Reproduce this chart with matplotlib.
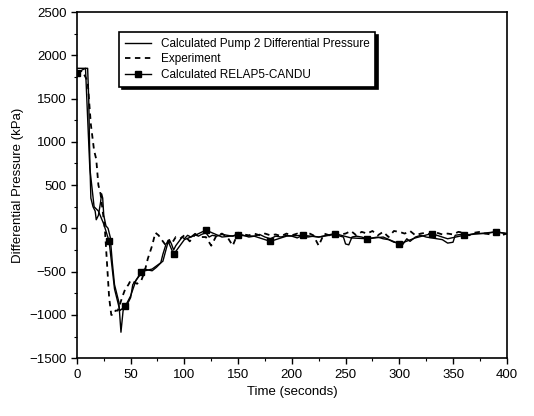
import matplotlib.pyplot as plt
import numpy as np

plt.rcParams['font.family'] = ['Liberation Sans', 'DejaVu Sans']

# Calculated Pump 2 differential pressure (solid line)
calc_t = [0, 10, 11, 12, 13, 15, 17, 18, 20, 22, 23, 24, 25, 27, 29, 31, 33, 35, 37, 39,
          41, 43, 45, 48, 50, 52, 55, 58, 60, 63, 66, 70, 74, 78, 80, 83, 86, 88, 90, 92,
          95, 98, 100, 103, 106, 110, 113, 116, 120, 123, 126, 130, 135, 140, 145, 150,
          155, 160, 165, 170, 175, 180, 185, 190, 195, 200, 205, 210, 215, 220, 225, 230,
          235, 240, 245, 248, 250, 253, 256, 260, 265, 270, 275, 280, 285, 290, 295, 300,
          303, 307, 310, 315, 320, 325, 330, 335, 340, 345, 350, 352, 357, 362, 370, 380,
          390, 395, 400]
calc_p = [1850, 1850, 1500, 800, 350, 250, 200, 100, 150, 300, 400, 350, 150, 30, 0, -100,
          -400, -650, -750, -850, -1200, -950, -900, -850, -800, -650, -600, -550, -500,
          -470, -480, -490, -450, -400, -300, -180, -130, -180, -250, -200, -150, -100,
          -120, -80, -100, -60, -90, -70, -50, -100, -80, -90, -70, -80, -90, -60, -80,
          -100, -90, -70, -100, -120, -90, -100, -80, -90, -110, -80, -100, -90, -100,
          -90, -80, -70, -90, -100, -180, -190, -100, -90, -100, -120, -110, -100, -120,
          -130, -160, -170, -190, -120, -150, -100, -80, -100, -110, -120, -130, -170,
          -160, -80, -70, -80, -60, -60, -40, -50, -60]

# Experiment (dashed line)
exp_t = [0, 5, 10, 13, 16, 18, 20, 22, 24, 26, 28, 30, 32, 34, 36, 38, 40, 42, 45, 48,
         50, 53, 56, 60, 63, 66, 70, 73, 76, 80, 83, 85, 88, 92, 96, 100, 105, 110, 115,
         120, 125, 130, 135, 140, 145, 150, 155, 160, 165, 170, 175, 180, 185, 190, 195,
         200, 205, 210, 215, 220, 225, 230, 235, 240, 245, 250, 255, 260, 265, 270, 275,
         280, 285, 290, 295, 300, 305, 310, 315, 320, 325, 330, 335, 340, 345, 350, 355,
         360, 365, 370, 375, 380, 385, 390, 395, 400]
exp_p = [1800, 1820, 1700, 1200, 900, 800, 500, 400, 200, 0, -400, -800, -1000, -1000,
         -950, -950, -880, -800, -700, -650, -600, -620, -640, -600, -500, -350, -200,
         -50, -80, -150, -200, -140, -180, -100, -120, -80, -150, -70, -100, -100, -200,
         -80, -60, -100, -200, -50, -70, -80, -60, -80, -60, -80, -70, -90, -60, -80,
         -60, -100, -50, -80, -200, -60, -80, -50, -70, -60, -30, -80, -40, -60, -30,
         -80, -40, -100, -30, -40, -60, -30, -80, -60, -50, -80, -50, -70, -60, -70, -40,
         -50, -80, -50, -40, -60, -70, -50, -80, -60]

# Calculated RELAP5-CANDU (solid line with square markers)
relap_t = [0, 8, 12, 16, 20, 25, 30, 35, 40, 45, 50, 55, 60, 70, 80, 85, 90, 100, 110,
           120, 135, 150, 165, 180, 195, 210, 225, 240, 255, 270, 285, 300, 315, 330,
           345, 360, 375, 390, 400]
relap_p = [1800, 1850, 700, 250, 200, 50, -150, -700, -950, -900, -780, -600, -500, -470,
           -380, -150, -300, -130, -80, -20, -100, -80, -90, -150, -90, -80, -100, -60,
           -110, -120, -100, -180, -110, -60, -120, -80, -60, -40, -60]
relap_marks = [0, 6, 9, 12, 16, 19, 21, 23, 25, 27, 29, 31, 33, 35, 37]

fig = plt.figure(figsize=(5.34, 4.16), dpi=100)
ax = fig.add_axes([0.144, 0.139, 0.805, 0.832])

ax.plot(calc_t, calc_p, color='black', lw=1.0, label='Calculated Pump 2 Differential Pressure')
ax.plot(exp_t, exp_p, color='black', lw=1.3, ls=(0, (3, 2.5)), label='Experiment')
ax.plot(relap_t, relap_p, color='black', lw=1.0, marker='s', ms=5,
        markevery=relap_marks, label='Calculated RELAP5-CANDU')

ax.set_xlim(0, 400)
ax.set_ylim(-1500, 2500)
ax.set_xticks(np.arange(0, 401, 50))
ax.set_yticks(np.arange(-1500, 2501, 500))
ax.set_xticks(np.arange(0, 401, 25), minor=True)
ax.set_yticks(np.arange(-1500, 2501, 250), minor=True)
ax.tick_params(which='major', direction='out', length=4, width=1, labelsize=9.5)
ax.tick_params(which='minor', direction='out', length=2, width=0.8)
for s in ax.spines.values():
    s.set_linewidth(1.2)

ax.set_xlabel('Time (seconds)', fontsize=9.5)
ax.set_ylabel('Differential Pressure (kPa)', fontsize=9.5)

leg = ax.legend(loc='upper left', bbox_to_anchor=(0.085, 0.96), fontsize=8.5,
                frameon=True, fancybox=False, shadow={'color': 'black', 'alpha': 1},
                edgecolor='black', framealpha=1, handlelength=2.2, borderpad=0.5,
                labelspacing=0.3)
leg.get_frame().set_linewidth(1.2)

fig.savefig('out.png', dpi=100)
